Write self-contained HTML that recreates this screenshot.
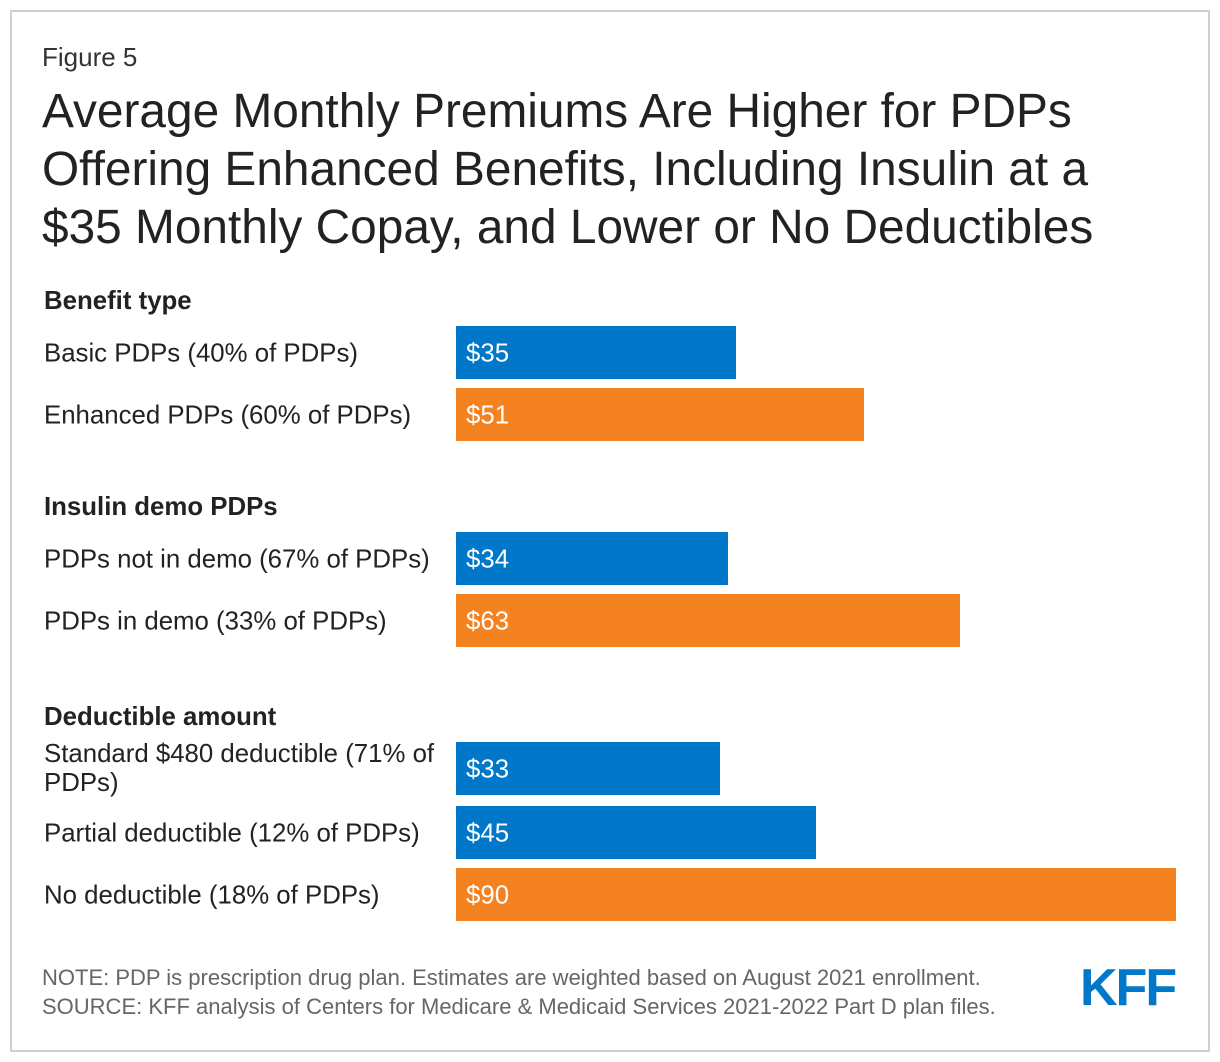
<!DOCTYPE html>
<html><head><meta charset="utf-8"><style>
body{margin:0;width:1220px;height:1062px;background:#fff;font-family:"Liberation Sans",Arial,sans-serif;position:relative;overflow:hidden}
.frame{position:absolute;left:10px;top:10px;width:1196px;height:1038px;border:2px solid #d0d0d0}
.t{position:absolute;white-space:nowrap}
</style></head><body>
<div class="frame"></div>
<div class="t" style="left:42px;top:42px;font-size:26px;color:#333">Figure 5</div>
<div class="t" style="left:42px;top:83px;font-size:47.8px;line-height:58px;color:#222">Average Monthly Premiums Are Higher for PDPs<br>Offering Enhanced Benefits, Including Insulin at a<br>$35 Monthly Copay, and Lower or No Deductibles</div>
<svg id="chart" width="1220" height="1062" style="position:absolute;left:0;top:0"></svg>
<div class="t" style="left:42px;top:963px;font-size:22px;line-height:29px;color:#666">NOTE: PDP is prescription drug plan. Estimates are weighted based on August 2021 enrollment.<br>SOURCE: KFF analysis of Centers for Medicare &amp; Medicaid Services 2021-2022 Part D plan files.</div>
<div class="t" style="left:1080px;top:958px;font-size:52px;font-weight:bold;color:#0077c8;letter-spacing:-2px">KFF</div>
<script>
const labels=["Basic PDPs (40% of PDPs)","Enhanced PDPs (60% of PDPs)","PDPs not in demo (67% of PDPs)","PDPs in demo (33% of PDPs)","Standard $480 deductible (71% of|PDPs)","Partial deductible (12% of PDPs)","No deductible (18% of PDPs)"];
const values=[35,51,34,63,33,45,90];
const colorsIdx=[0,1,0,1,0,0,1];
const groups=["Benefit type","Insulin demo PDPs","Deductible amount"];
const groupStart=[0,2,4];
const palette=["#0077c8","#f58220"];
const svg=document.getElementById('chart');
const NS="http://www.w3.org/2000/svg";
const x0=456,xs=v=>v*8;
const barTops=[326,388,532,594,742,806,868];
const barH=53;
function txt(x,y,s,opts){const t=document.createElementNS(NS,'text');t.setAttribute('x',x);t.setAttribute('y',y);t.setAttribute('font-size',opts.size||25.8);t.setAttribute('fill',opts.fill||'#222');if(opts.bold)t.setAttribute('font-weight','bold');t.setAttribute('font-family','Liberation Sans, Arial, sans-serif');t.textContent=s;svg.appendChild(t);return t;}
groups.forEach((g,i)=>{const y=barTops[groupStart[i]]-17;
const t=txt(44,y,g,{bold:true});

});
values.forEach((v,i)=>{const y=barTops[i];
const r=document.createElementNS(NS,'rect');r.setAttribute('x',x0);r.setAttribute('y',y);r.setAttribute('width',xs(v));r.setAttribute('height',barH);r.setAttribute('fill',palette[colorsIdx[i]]);


svg.appendChild(r);
const vl=txt(x0+10,y+barH/2+9,'$'+v,{fill:'#fff'});


const parts=labels[i].split('|');
parts.forEach((p,k)=>{const ly=parts.length>1?y+20+k*29:y+barH/2+9;
const l=txt(44,ly,p,{fill:'#222'});

});
});
</script>
</body></html>
